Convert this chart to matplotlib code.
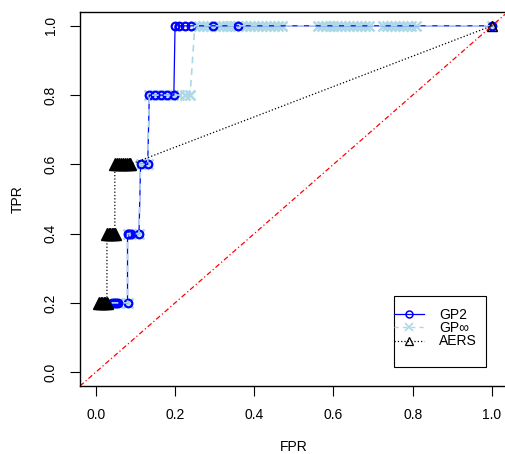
import matplotlib
matplotlib.use("Agg")
import matplotlib.pyplot as plt
from matplotlib.lines import Line2D
from matplotlib.patches import Rectangle

plt.rcParams['font.family'] = ['Liberation Sans', 'DejaVu Sans']
plt.rcParams['font.size'] = 10

# ROC points
gp2_fpr = [0.040, 0.045, 0.050, 0.056, 0.080,
           0.080, 0.085, 0.090, 0.109,
           0.113, 0.131,
           0.135, 0.150, 0.165, 0.180, 0.197,
           0.200, 0.210, 0.225, 0.240, 0.295, 0.360, 1.000]
gp2_tpr = [0.2, 0.2, 0.2, 0.2, 0.2,
           0.4, 0.4, 0.4, 0.4,
           0.6, 0.6,
           0.8, 0.8, 0.8, 0.8, 0.8,
           1.0, 1.0, 1.0, 1.0, 1.0, 1.0, 1.0]

gpinf_fpr = [0.040, 0.056, 0.080,
             0.080, 0.090, 0.109,
             0.113, 0.131,
             0.135, 0.150, 0.165, 0.180, 0.195, 0.210, 0.225, 0.238,
             0.250, 0.260, 0.270, 0.280, 0.290, 0.300, 0.310, 0.320,
             0.330, 0.340, 0.350, 0.360, 0.370, 0.380, 0.390, 0.400,
             0.410, 0.420, 0.430, 0.440, 0.450, 0.460, 0.470,
             0.560, 0.570, 0.580, 0.590, 0.600, 0.610, 0.620, 0.630,
             0.640, 0.650, 0.660, 0.670, 0.680, 0.690,
             0.725, 0.735, 0.745, 0.755, 0.765, 0.775, 0.785, 0.795, 0.808,
             1.000]
gpinf_tpr = [0.2, 0.2, 0.2,
             0.4, 0.4, 0.4,
             0.6, 0.6,
             0.8, 0.8, 0.8, 0.8, 0.8, 0.8, 0.8, 0.8,
             1.0, 1.0, 1.0, 1.0, 1.0, 1.0, 1.0, 1.0,
             1.0, 1.0, 1.0, 1.0, 1.0, 1.0, 1.0, 1.0,
             1.0, 1.0, 1.0, 1.0, 1.0, 1.0, 1.0,
             1.0, 1.0, 1.0, 1.0, 1.0, 1.0, 1.0, 1.0,
             1.0, 1.0, 1.0, 1.0, 1.0, 1.0,
             1.0, 1.0, 1.0, 1.0, 1.0, 1.0, 1.0, 1.0, 1.0,
             1.0]

aers_fpr = [0.008, 0.012, 0.016, 0.020, 0.024, 0.028,
            0.028, 0.032, 0.036, 0.040, 0.044, 0.048,
            0.048, 0.053, 0.058, 0.063, 0.068, 0.073, 0.078, 0.083, 0.087,
            1.000]
aers_tpr = [0.2, 0.2, 0.2, 0.2, 0.2, 0.2,
            0.4, 0.4, 0.4, 0.4, 0.4, 0.4,
            0.6, 0.6, 0.6, 0.6, 0.6, 0.6, 0.6, 0.6, 0.6,
            1.0]

ticks = [0.0, 0.2, 0.4, 0.6, 0.8, 1.0]
tick_labels = ["0.0", "0.2", "0.4", "0.6", "0.8", "1.0"]

fig = plt.figure(figsize=(5.05, 4.54), dpi=100)
ax = fig.add_axes([0.1584, 0.1498, 0.847, 0.8238])

# GP-inf markers first, GP2 on top, then GP-inf dashed line over everything
ax.plot(gpinf_fpr, gpinf_tpr, linestyle='none', marker='x', color='lightblue',
        markersize=6.5, mew=1.8)
ax.plot(gp2_fpr, gp2_tpr, '-', color='blue', lw=0.9, marker='o',
        markersize=5.5, mfc='none', mew=1.6)
ax.plot(gpinf_fpr, gpinf_tpr, '--', color='lightblue', lw=1.2, dashes=(4, 3))

ax.plot(aers_fpr[:-1], aers_tpr[:-1], linestyle='none', marker='^',
        color='black', markersize=8.5)
ax.plot(aers_fpr, aers_tpr, ':', color='black', lw=0.9)
ax.plot(aers_fpr[-1:], aers_tpr[-1:], linestyle='none', marker='^',
        mfc='none', mec='black', markersize=7, mew=1.0)

ax.axline((0, 0), (1, 1), color='red', lw=0.9, linestyle=(0, (4, 2, 1, 2)))

ax.set_xlim(-0.04, 1.04)
ax.set_ylim(-0.04, 1.04)
ax.set_xticks(ticks)
ax.set_xticklabels(tick_labels)
ax.set_yticks(ticks)
ax.set_yticklabels(tick_labels, rotation=90, va='center')
ax.tick_params(direction='out', length=7, width=0.8, pad=9, labelsize=10)
for s in ax.spines.values():
    s.set_linewidth(1.0)

ax.set_xlabel("FPR", labelpad=13)
ax.set_ylabel("TPR", labelpad=14)

handles = [
    Line2D([], [], color='blue', lw=0.9, marker='o', mfc='none', markersize=5, mew=1.1),
    Line2D([], [], color='lightblue', lw=1.0, linestyle='--', dashes=(3, 3),
           marker='x', markersize=6, mew=1.2),
    Line2D([], [], color='black', lw=0.9, linestyle=':', marker='^',
           mfc='none', markersize=6, mew=0.9),
]
# R-style legend: box drawn separately, entries placed inside it
ax.add_patch(Rectangle((0.734, 0.051), 0.215, 0.190, transform=ax.transAxes,
                       facecolor='white', edgecolor='black', lw=0.8, zorder=4))
leg = ax.legend(handles, ["GP2", "GP∞", "AERS"], loc='upper left',
                bbox_to_anchor=(0.735, 0.209), borderaxespad=0, borderpad=0,
                frameon=False, handlelength=2.15, handletextpad=1.05,
                labelspacing=-0.05, fontsize=10)
leg.set_zorder(5)

fig.savefig("out.png", dpi=100)
